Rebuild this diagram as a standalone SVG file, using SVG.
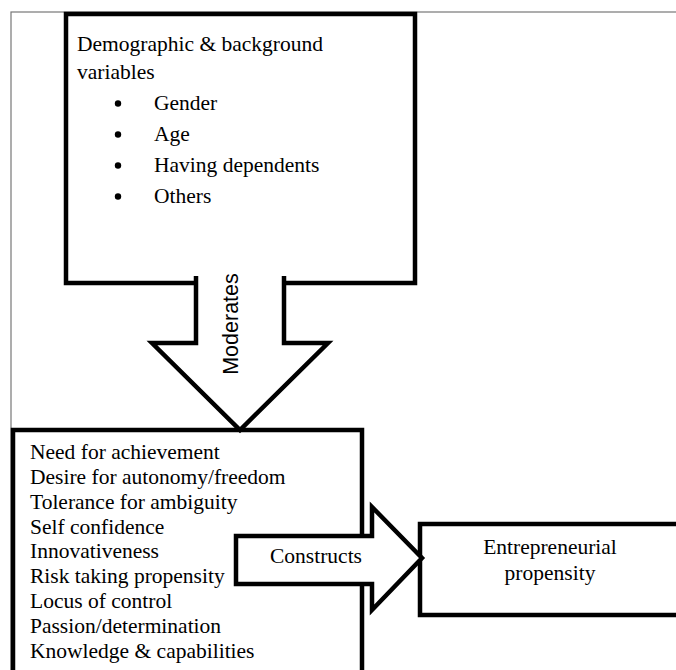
<svg xmlns="http://www.w3.org/2000/svg" width="676" height="670" viewBox="0 0 676 670">
<style>
.t{font-family:"Liberation Serif","Times New Roman",serif;font-size:21.5px;fill:#000}
.s{font-family:"Liberation Sans",Arial,sans-serif;font-size:21.5px;fill:#000}
.box{fill:#fff;stroke:#000;stroke-width:4.5;stroke-linejoin:miter}
</style>
<rect width="676" height="670" fill="#fff"/>
<rect x="11" y="12" width="700" height="700" fill="none" stroke="#777" stroke-width="1.2"/>
<g id="demographics">
<rect class="box" x="66" y="14" width="349" height="269"/>
<text class="t" x="77" y="51">Demographic &amp; background</text>
<text class="t" x="77" y="79">variables</text>
<g>
<circle cx="118" cy="103.5" r="3.2"/>
<circle cx="118" cy="134.5" r="3.2"/>
<circle cx="118" cy="165.5" r="3.2"/>
<circle cx="118" cy="196.5" r="3.2"/>
</g>
<text class="t" x="154" y="110">Gender</text>
<text class="t" x="154" y="141">Age</text>
<text class="t" x="154" y="172">Having dependents</text>
<text class="t" x="154" y="203">Others</text>
</g>
<g id="constructs-box">
<rect class="box" x="13" y="430" width="349" height="260"/>
<text class="t" x="30" y="459">Need for achievement</text>
<text class="t" x="30" y="484">Desire for autonomy/freedom</text>
<text class="t" x="30" y="509">Tolerance for ambiguity</text>
<text class="t" x="30" y="534">Self confidence</text>
<text class="t" x="30" y="558">Innovativeness</text>
<text class="t" x="30" y="583">Risk taking propensity</text>
<text class="t" x="30" y="608">Locus of control</text>
<text class="t" x="30" y="633">Passion/determination</text>
<text class="t" x="30" y="658">Knowledge &amp; capabilities</text>
</g>
<g id="propensity">
<rect class="box" x="420" y="524" width="300" height="91"/>
<text class="t" x="550" y="554" text-anchor="middle">Entrepreneurial</text>
<text class="t" x="550" y="580" text-anchor="middle">propensity</text>
</g>
<g id="connectors">
<g id="moderates">
<path class="box" d="M196,276 V343 H152 L240,430 L328,343 H284 V276"/>
<text class="s" transform="translate(238,324) rotate(-90)" text-anchor="middle">Moderates</text>
</g>
<g id="constructs">
<path class="box" d="M236,536 H372 V507 L422,558 L372,610 V584 H236 Z"/>
<text class="t" x="316" y="563" text-anchor="middle">Constructs</text>
</g>
</g>
</svg>
